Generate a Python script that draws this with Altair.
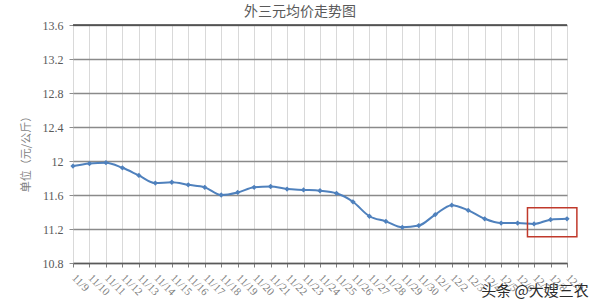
import json
import altair as alt
import pandas as pd

labels = ["11/9", "11/10", "11/11", "11/12", "11/13", "11/14", "11/15", "11/16",
          "11/17", "11/18", "11/19", "11/20", "11/21", "11/22", "11/23", "11/24",
          "11/25", "11/26", "11/27", "11/28", "11/29", "11/30", "12/1", "12/2",
          "12/3", "12/4", "12/5", "12/6", "12/7", "12/8", "12/9"]
prices = [11.94, 11.97, 11.98, 11.92, 11.83, 11.74, 11.75, 11.72,
          11.69, 11.60, 11.63, 11.69, 11.70, 11.67, 11.66, 11.65,
          11.62, 11.52, 11.35, 11.29, 11.22, 11.24, 11.37, 11.48,
          11.42, 11.32, 11.27, 11.27, 11.26, 11.31, 11.32]
y_ticks = [10.8, 11.2, 11.6, 12.0, 12.4, 12.8, 13.2, 13.6]
title_text = "外三元均价走势图"
watermark = "头条 @大嫂三农"

# highlight box around the last points (data coordinates)
box = pd.DataFrame({"i": [27.6], "i2": [30.6], "price": [11.11], "price2": [11.45]})
top_line = pd.DataFrame({"price": [13.6]})

df = pd.DataFrame({"i": list(range(len(labels))), "label": labels, "price": prices})

SERIF = "Liberation Serif, Noto Sans CJK SC"
label_expr = json.dumps(labels) + "[datum.value]"

x_axis = alt.Axis(values=list(range(len(labels))), labelExpr=label_expr,
                  title=None, labelAngle=45, labelAlign="left", labelBaseline="middle",
                  labelPadding=9, labelFontSize=11, labelColor="#7f7f7f", labelFont=SERIF,
                  grid=True, gridColor="#d9d9d9", gridWidth=1,
                  domainColor="#595959", domainWidth=1.5,
                  tickColor="#7f7f7f", tickSize=4, labelOverlap=False, labelFlush=False)
y_axis = alt.Axis(values=y_ticks, title="单位（元/公斤）", titleFont="Noto Sans CJK SC",
                  titleFontSize=11, titleFontWeight="normal", titleColor="#7f7f7f",
                  titleX=-47, titleY=126, titleAngle=-90, titleBaseline="middle",
                  labelFont=SERIF, labelFontSize=12, labelColor="#595959", labelPadding=6,
                  labelExpr="format(datum.value, '.1~f')", labelOverlap=False,
                  grid=True, gridColor="#8a8a8a", gridWidth=1.7,
                  domain=False, tickSize=4, tickColor="#8c8c8c")
x_scale = alt.Scale(domain=[0, len(labels) - 1], nice=False, zero=False)
y_scale = alt.Scale(domain=[10.8, 13.6], nice=False, zero=False)

X = alt.X("i:Q", scale=x_scale, axis=x_axis)
Y = alt.Y("price:Q", scale=y_scale, axis=y_axis)

base = alt.Chart(df)
line = base.mark_line(color="#4f81bd", strokeWidth=2, interpolate="monotone").encode(x=X, y=Y)
pts = base.mark_point(shape="diamond", filled=True, size=28, color="#4f81bd", opacity=1).encode(x=X, y=Y)

top = alt.Chart(top_line).mark_rule(color="#404040", strokeWidth=1.5).encode(y=Y)

rect = alt.Chart(box).mark_rect(fill=None, stroke="#c0392b", strokeWidth=1.5).encode(
    x=X, x2="i2:Q", y=Y, y2="price2:Q")

ttl = alt.Chart(pd.DataFrame({"t": [title_text]})).mark_text(
    font="Noto Sans CJK SC", fontSize=14, color="#595959", align="center", baseline="middle"
).encode(text="t:N", x=alt.value(227), y=alt.value(-13))

wm = alt.Chart(pd.DataFrame({"t": [watermark]})).mark_text(
    font="Noto Sans CJK SC", fontSize=15, color="#2b2b2b", align="center", baseline="middle"
).encode(text="t:N", x=alt.value(462), y=alt.value(266))

chart = alt.layer(top, line, pts, rect, ttl, wm).properties(
    width=494, height=238,
    autosize=alt.AutoSizeParams(type="none"),
    padding={"left": 73, "top": 25, "right": 33, "bottom": 45},
).configure_view(stroke=None).configure(background="white")

chart.save("out.html", embed_options={"renderer": "svg", "actions": False})
